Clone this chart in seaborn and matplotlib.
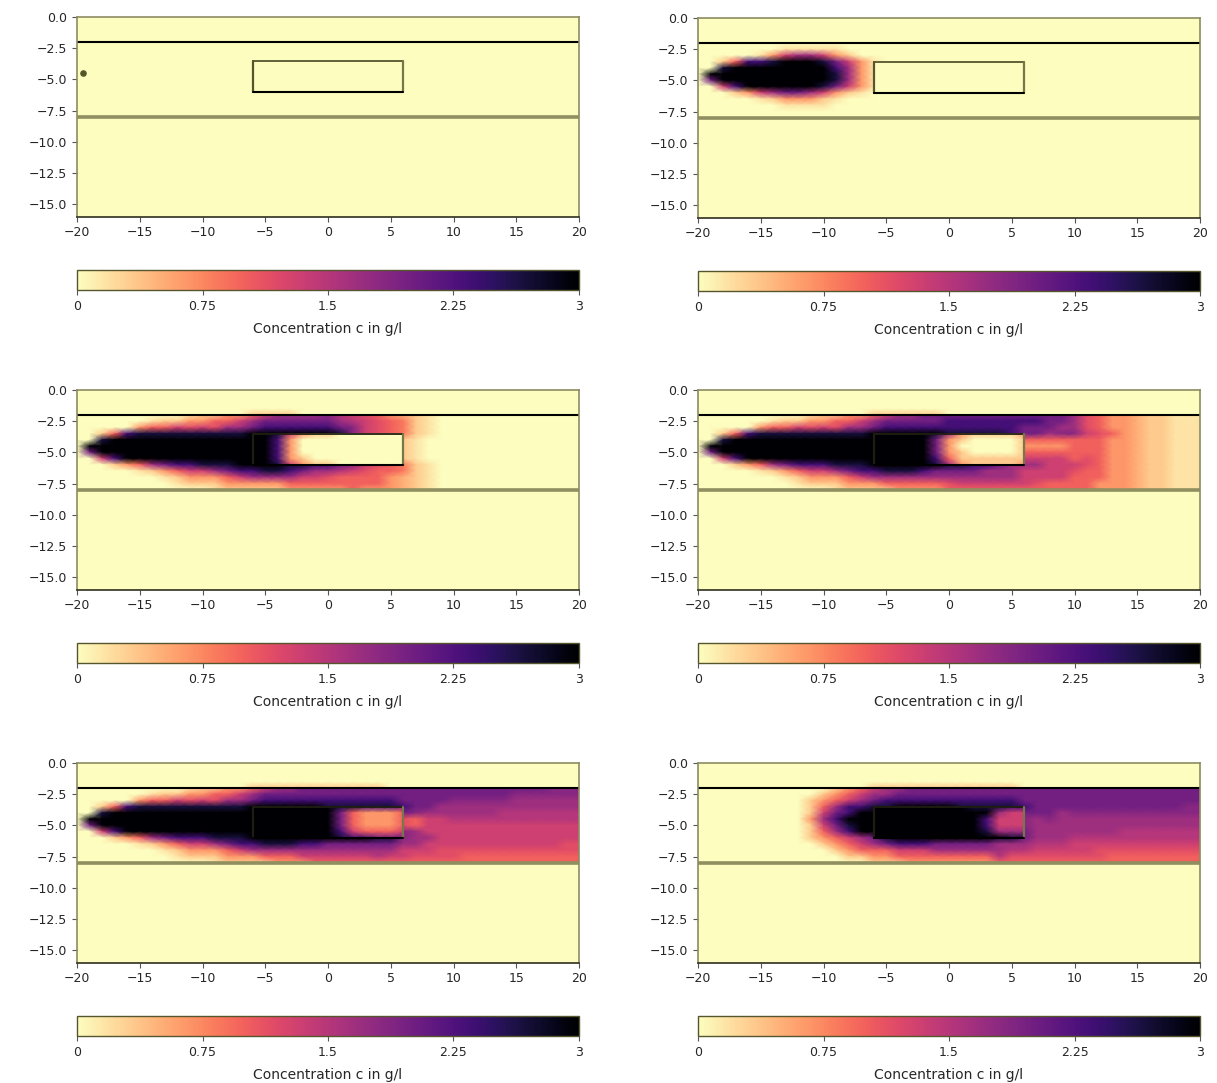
import numpy as np
import matplotlib
matplotlib.use("Agg")
import matplotlib.pyplot as plt
from matplotlib.transforms import Affine2D
import seaborn as sns

sns.set_style("ticks")
plt.rcParams['font.family'] = ['DejaVu Sans']

# concentration, in steps of 1/3 g/l: 0-9, and the
# letters a-i are the half steps 0.5-8.5
# columns x = -20..20, rows y = -2, -2.5, ... -8 (grouped in fives)
band_1 = ["00000 00000 00000 00000 00000 00000 00000 00000 0"] * 13
band_2 = [
    "00000 00000 00000 00000 00000 00000 00000 00000 0",
    "00000 00aaa aa000 00000 00000 00000 00000 00000 0",
    "00000 a2455 42100 00000 00000 00000 00000 00000 0",
    "00137 78999 8642a 00000 00000 00000 00000 00000 0",
    "00899 99999 9752a 00000 00000 00000 00000 00000 0",
    "09999 99999 9852a 00000 00000 00000 00000 00000 0",
    "06999 99999 9852a 00000 00000 00000 00000 00000 0",
    "00479 99999 8642a 00000 00000 00000 00000 00000 0",
    "00012 45665 421a0 00000 00000 00000 00000 00000 0",
    "00000 a1222 1a000 00000 00000 00000 00000 00000 0",
    "00000 00aaa a0000 00000 00000 00000 00000 00000 0",
    "00000 00000 00000 00000 00000 00000 00000 00000 0",
    "00000 00000 00000 00000 00000 00000 00000 00000 0",
]
band_3 = [
    "00000 0000a 11223 45555 fe4d3 2b1a0 00000 00000 0",
    "00000 0a112 23345 66666 65e4d 3c1a0 00000 00000 0",
    "00000 2334d 4d556 77777 76f4d 3c1a0 00000 00000 0",
    "00137 88888 88889 99999 98f4d 3c1a0 00000 00000 0",
    "00899 99999 99999 99999 99999 01a00 00000 00000 0",
    "09999 99999 99999 99999 99999 01a00 00000 00000 0",
    "06999 99999 99999 99999 99999 01a00 00000 00000 0",
    "00479 99999 99999 99999 99999 01a00 00000 00000 0",
    "00012 35677 88899 99887 76f4d 3c1a0 00000 00000 0",
    "00000 a1234 45677 88765 5e4d3 3c1a0 00000 00000 0",
    "00000 00a12 22345 55544 d3333 2b1a0 00000 00000 0",
    "00000 000a1 11222 22333 33333 2b1a0 00000 00000 0",
    "00000 00000 0a111 11222 22322 2b1a0 00000 00000 0",
]
band_4 = [
    "00000 0000a 11223 45566 66666 66666 5d322 b11aa a",
    "00000 0a112 23345 66666 77777 77766 5d322 b11aa a",
    "00000 2334d 4d556 77777 77777 76665 5d322 b11aa a",
    "00137 88888 88889 99999 88888 7665f f4d32 b11aa a",
    "00899 99999 99999 99999 99999 d3333 33322 b11aa a",
    "09999 99999 99999 99999 99999 d2222 33322 b11aa a",
    "06999 99999 99999 99999 99999 d3333 33322 b11aa a",
    "00479 99999 99999 99999 99999 e4444 3d322 b11aa a",
    "00012 35677 78889 99999 88776 55544 4d322 b11aa a",
    "00000 a1234 45677 88876 66655 54444 d3322 b11aa a",
    "00000 00a12 22345 55555 55555 54444 33322 b11aa a",
    "00000 000a1 11222 33333 d4444 44d33 33222 b11aa a",
    "00000 00000 0a111 12222 33333 33333 33222 b11aa a",
]
band_5 = [
    "00000 0000a 11223 45566 66666 66666 66666 666ff f",
    "00000 0a112 23345 66666 66666 66666 66666 fffff f",
    "00000 2334d 4d556 77777 77777 76666 fffff 55555 5",
    "00137 88888 88889 99999 88888 87665 55555 55555 5",
    "00899 99999 99999 99999 99999 96f55 5555e eeeee e",
    "09999 99999 99999 99999 99999 9d344 eeeee eeeee e",
    "06999 99999 99999 99999 99999 9d344 44444 44444 4",
    "00479 99999 99999 99999 99999 9f544 44444 44444 4",
    "00012 35677 78889 99999 99998 8f554 44444 44444 4",
    "00000 a1234 45677 88877 66666 65544 44444 4444d d",
    "00000 00a12 22345 55555 55555 5444d ddddd ddddd d",
    "00000 000a1 11222 33344 4444e 44ddd d3333 33333 3",
    "00000 00000 0a111 12223 33333 33333 33333 33333 3",
]
band_6 = [
    "00000 00000 01234 55666 66666 66666 66666 66666 6",
    "00000 00000 12345 56666 66666 66666 66666 66666 6",
    "00000 00001 23456 77777 77777 76666 66666 66666 6",
    "00000 00001 35778 89999 98888 87666 66666 6666f f",
    "00000 00001 46799 99999 99999 96665 fffff fffff f",
    "00000 00002 57999 99999 99999 9f5f5 55555 55555 5",
    "00000 00001 46899 99999 99999 9f555 55555 55555 5",
    "00000 00001 35799 99999 99999 96555 5555e eeeee e",
    "00000 00001 23456 89999 99998 86555 eeeee eeeee e",
    "00000 00000 12345 67776 66665 55eee 44444 44444 4",
    "00000 00000 01233 34445 55555 ee444 44ddd ddddd d",
    "00000 00000 00112 23333 3333e ddddd ddd33 33333 3",
    "00000 00000 00001 11222 22223 33333 33333 33333 3",
]

# inside the obstacle: columns x = -6..6, rows y = -3.5 ... -6
inner_1 = ["0000000000000"] * 6
inner_2 = ["0000000000000"] * 6
inner_3 = [
    "9984211000000",
    "9972000000000",
    "9972000000000",
    "9972000000000",
    "9972100000000",
    "9984211000000",
]
inner_4 = [
    "9999985211112",
    "9999962100001",
    "9999962000001",
    "9999962100001",
    "9999973111111",
    "9999985211112",
]
inner_5 = [
    "9999999887776",
    "9999999632223",
    "9999999632223",
    "9999999632223",
    "9999999743334",
    "9999999877666",
]
inner_6 = [
    "9999999988877",
    "9999999999544",
    "9999999997444",
    "9999999997444",
    "9999999998555",
    "9999999999988",
]

# small bumps just above the top line, x = -20..20
bump_1 = "00000 00000 00000 00000 00000 00000 00000 00000 0"
bump_2 = bump_1
bump_3 = "00000 00000 00001 11100 00000 00000 00000 00000 0"
bump_4 = "00000 00000 00001 11111 00000 00000 00000 00000 0"
bump_5 = "00000 00000 00001 11111 11111 00000 00000 00000 0"
bump_6 = "00000 00000 00001 11111 11111 10000 00000 00000 0"

bands = [band_1, band_2, band_3, band_4, band_5, band_6]
inners = [inner_1, inner_2, inner_3, inner_4, inner_5, inner_6]
bumps = [bump_1, bump_2, bump_3, bump_4, bump_5, bump_6]

x_ticks = [-20, -15, -10, -5, 0, 5, 10, 15, 20]
y_ticks = [0.0, -2.5, -5.0, -7.5, -10.0, -12.5, -15.0]
cbar_ticks = [0, 0.75, 1.5, 2.25, 3]
cbar_labels = ["0", "0.75", "1.5", "2.25", "3"]
source_x, source_y = [-19.5], [-4.5]

W, H = 1217, 1083
DIGITS = "0a1b2c3d4e5f6g7h8i9"


def to_grid(rows):
    return np.array([[DIGITS.index(c) / 6 for c in r.replace(" ", "")] for r in rows])


def field(ax, rows, x0, y0, **kw):
    # gouraud mesh on index coords, moved over to the data coords
    tr = Affine2D().scale(1, -0.5).translate(x0, y0) + ax.transData
    sns.heatmap(to_grid(rows), ax=ax, cmap="magma_r", vmin=0, vmax=3,
                shading="gouraud", transform=tr, xticklabels=False,
                yticklabels=False, **kw)


def panel(fig, left, top, i):
    ax = fig.add_axes([left / W, 1 - (top + 199.5) / H, 502 / W, 199.5 / H])
    cax = fig.add_axes([left / W, 1 - (top + 273) / H, 502 / W, 20 / H])
    ax.set_facecolor(plt.get_cmap("magma_r")(0.0))

    field(ax, bands[i], -20, -2, cbar=True, cbar_ax=cax,
          cbar_kws={"orientation": "horizontal"})
    field(ax, [bump_1, bumps[i]], -20, -1.5, cbar=False)
    field(ax, inners[i], -6, -3.5, cbar=False)

    ax.set_xlim(-20, 20)
    ax.set_ylim(-16, 0)
    ax.set_xticks(x_ticks, [str(t).replace("-", "\u2212") for t in x_ticks])
    ax.set_yticks(y_ticks, [f"{t:.1f}".replace("-", "\u2212") for t in y_ticks])
    ax.tick_params(labelsize=9, length=3.5, width=0.8, color="#555555",
                   bottom=True, left=True)
    for name, sp in ax.spines.items():
        sp.set_visible(True)
        sp.set_linewidth(1.2)
        sp.set_color("#2f2f20" if name == "bottom" else "#8c8c62")

    ax.axhline(-2, color="black", lw=1.5)
    ax.axhline(-8, color="#8f8f60", lw=2.6)
    # obstacle outline, darker once the plume has reached it
    edge = "#1e1e10" if i >= 2 else "#55552e"
    ax.plot([-6, 6], [-3.5, -3.5], color=edge, lw=1.3)
    ax.plot([-6, -6], [-3.5, -6], color=edge, lw=1.6)
    ax.plot([6, 6], [-3.5, -6], color="#77774a", lw=1.6)
    ax.plot([-6, 6], [-6, -6], color="black", lw=1.5)
    if i == 0:
        ax.scatter(source_x, source_y, s=14, color="#55552a", zorder=3)

    cb = ax.collections[0].colorbar
    cb.set_ticks(cbar_ticks, labels=cbar_labels)
    cb.ax.tick_params(labelsize=9, length=3.5, width=0.8, color="#555555")
    cb.outline.set_linewidth(1.0)
    cb.outline.set_edgecolor("#55552e")
    cb.set_label("Concentration c in g/l", fontsize=10, labelpad=7)


def main():
    fig = plt.figure(figsize=(W / 100, H / 100), dpi=100)
    tops = [17, 18, 390, 390, 763, 763]
    for i in range(6):
        left = 77 if i % 2 == 0 else 698
        panel(fig, left, tops[i], i)
    fig.savefig("out.png", dpi=100, facecolor="white")


if '__main__' == __name__:
    main()
